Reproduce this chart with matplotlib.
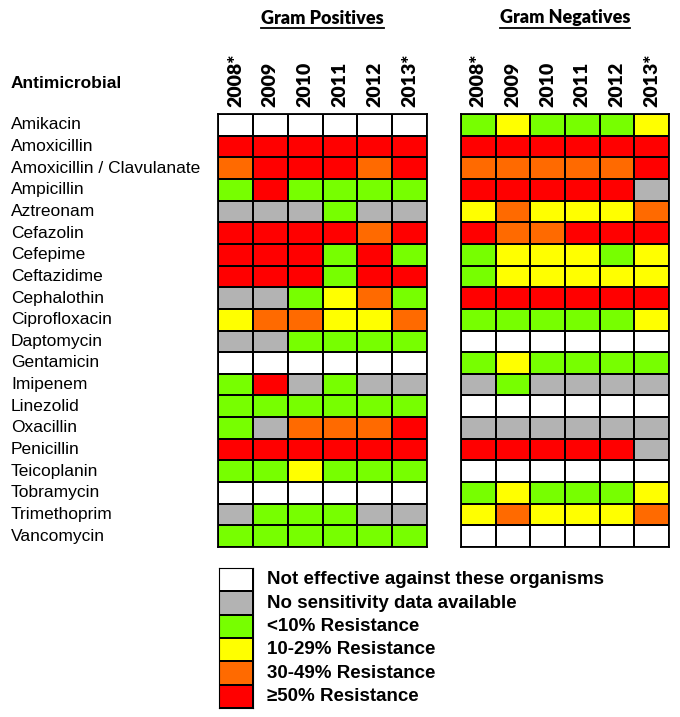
import numpy as np
import matplotlib.pyplot as plt
import matplotlib.transforms as mtransforms
from matplotlib.colors import ListedColormap
from matplotlib.lines import Line2D

antimicrobials = ['Amikacin', 'Amoxicillin', 'Amoxicillin / Clavulanate', 'Ampicillin',
                  'Aztreonam', 'Cefazolin', 'Cefepime', 'Ceftazidime', 'Cephalothin',
                  'Ciprofloxacin', 'Daptomycin', 'Gentamicin', 'Imipenem', 'Linezolid',
                  'Oxacillin', 'Penicillin', 'Teicoplanin', 'Tobramycin', 'Trimethoprim',
                  'Vancomycin']
years = ['2008*', '2009', '2010', '2011', '2012', '2013*']
legend_labels = ['Not effective against these organisms', 'No sensitivity data available',
                 '<10% Resistance', '10-29% Resistance', '30-49% Resistance',
                 '\u226550% Resistance']

# 0 not effective, 1 no data, 2 <10%, 3 10-29%, 4 30-49%, 5 >=50%
gram_pos = [
    [0, 0, 0, 0, 0, 0],
    [5, 5, 5, 5, 5, 5],
    [4, 5, 5, 5, 4, 5],
    [2, 5, 2, 2, 2, 2],
    [1, 1, 1, 2, 1, 1],
    [5, 5, 5, 5, 4, 5],
    [5, 5, 5, 2, 5, 2],
    [5, 5, 5, 2, 5, 5],
    [1, 1, 2, 3, 4, 2],
    [3, 4, 4, 3, 3, 4],
    [1, 1, 2, 2, 2, 2],
    [0, 0, 0, 0, 0, 0],
    [2, 5, 1, 2, 1, 1],
    [2, 2, 2, 2, 2, 2],
    [2, 1, 4, 4, 4, 5],
    [5, 5, 5, 5, 5, 5],
    [2, 2, 3, 2, 2, 2],
    [0, 0, 0, 0, 0, 0],
    [1, 2, 2, 2, 1, 1],
    [2, 2, 2, 2, 2, 2],
]
gram_neg = [
    [2, 3, 2, 2, 2, 3],
    [5, 5, 5, 5, 5, 5],
    [4, 4, 4, 4, 4, 5],
    [5, 5, 5, 5, 5, 1],
    [3, 4, 3, 3, 3, 4],
    [5, 4, 4, 5, 5, 5],
    [2, 3, 3, 3, 2, 3],
    [2, 3, 3, 3, 3, 3],
    [5, 5, 5, 5, 5, 5],
    [2, 2, 2, 2, 2, 3],
    [0, 0, 0, 0, 0, 0],
    [2, 3, 2, 2, 2, 2],
    [1, 2, 1, 1, 1, 1],
    [0, 0, 0, 0, 0, 0],
    [1, 1, 1, 1, 1, 1],
    [5, 5, 5, 5, 5, 1],
    [0, 0, 0, 0, 0, 0],
    [2, 3, 2, 2, 2, 3],
    [3, 4, 3, 3, 3, 4],
    [0, 0, 0, 0, 0, 0],
]

colors = ['#ffffff', '#b3b3b3', '#77ff00', '#ffff00', '#ff6a00', '#ff0000']
cmap = ListedColormap(colors)

W, H = 680, 717
fig = plt.figure(figsize=(W / 100, H / 100), dpi=100)


def draw_grid(left, width, data, title):
    ax = fig.add_axes([left / W, 1 - 547 / H, width / W, 433 / H])
    ax.pcolormesh(np.array(data), cmap=cmap, vmin=-0.5, vmax=5.5,
                  edgecolors='black', linewidth=1.3)
    ax.set_ylim(len(data), 0)
    ax.set_xlim(0, len(years))
    ax.set_xticks(np.arange(len(years)) + 0.5)
    ax.set_xticklabels(years, rotation=90, fontsize=14, fontweight='heavy', family='Lato')
    ax.xaxis.tick_top()
    ax.tick_params(length=0, pad=5)
    ax.set_yticks([])
    for s in ax.spines.values():
        s.set_linewidth(1.3)
    t = fig.text((left + width / 2) / W, 1 - 18 / H, title, ha='center', va='center',
                 fontsize=13, fontweight='heavy', family='Lato')
    return ax, t


ax_pos, t_pos = draw_grid(218, 209, gram_pos, 'Gram Positives')
ax_neg, t_neg = draw_grid(461, 208, gram_neg, 'Gram Negatives')

fig.text(11 / W, 1 - 83 / H, 'Antimicrobial', ha='left', va='center',
         fontsize=12.5, fontweight='bold', family='Liberation Sans')
trans = mtransforms.blended_transform_factory(fig.transFigure, ax_pos.transData)
for i, name in enumerate(antimicrobials):
    ax_pos.text(11 / W, i + 0.5, name, transform=trans, ha='left', va='center',
                fontsize=12.5, family='Liberation Sans', clip_on=False)

# legend
ax_leg = fig.add_axes([219 / W, 1 - 708 / H, 34 / W, 140 / H])
ax_leg.pcolormesh(np.arange(len(legend_labels)).reshape(-1, 1), cmap=cmap, vmin=-0.5, vmax=5.5,
                  edgecolors='black', linewidth=1.3)
ax_leg.set_ylim(len(legend_labels), 0)
ax_leg.set_xticks([])
ax_leg.set_yticks([])
trans_leg = mtransforms.blended_transform_factory(fig.transFigure, ax_leg.transData)
for i, lab in enumerate(legend_labels):
    ax_leg.text(267 / W, i + 0.5, lab, transform=trans_leg, ha='left', va='center',
                fontsize=13.5, fontweight='bold', family='Liberation Sans', clip_on=False)

# underline the group titles
fig.canvas.draw()
for t in (t_pos, t_neg):
    bb = t.get_window_extent()
    y = (bb.y0 - 1) / H
    fig.add_artist(Line2D([bb.x0 / W, bb.x1 / W], [y, y], color='black', linewidth=1.3))

fig.savefig('out.png', dpi=100)
